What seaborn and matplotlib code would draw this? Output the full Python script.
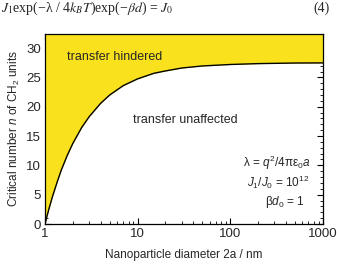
import matplotlib
matplotlib.use("Agg")
import matplotlib.pyplot as plt
import matplotlib.ticker as mticker
import seaborn as sns
import pandas as pd

# Data
diameter_nm = [1.0, 1.05, 1.1, 1.2, 1.35, 1.5, 1.75, 2.0, 2.5, 3.0, 4.0, 5.0, 7.0, 10.0,
               15.0, 20.0, 30.0, 50.0, 100.0, 200.0, 500.0, 1000.0]
critical_n = [0.0, 1.3, 2.5, 4.6, 7.1, 9.2, 11.8, 13.75, 16.5, 18.3, 20.6, 22.0, 23.6, 24.75,
              25.7, 26.1, 26.6, 26.95, 27.2, 27.35, 27.45, 27.47]
x_ticks = [1, 10, 100, 1000]
x_tick_labels = ["1", "10", "100", "1000"]
y_ticks = [0, 5, 10, 15, 20, 25, 30]

df = pd.DataFrame({"d": diameter_nm, "n": critical_n})

sns.set_theme(style="ticks")
plt.rcParams["font.family"] = ["Liberation Sans", "DejaVu Sans"]
plt.rcParams["mathtext.fontset"] = "custom"
plt.rcParams["mathtext.rm"] = "Liberation Sans"
plt.rcParams["mathtext.it"] = "Liberation Sans:italic"

fig = plt.figure(figsize=(3.37, 2.65), dpi=100)
ax = fig.add_axes([0.1335, 0.1547, 0.8245, 0.717])

ymax = 32.4
yellow = "#F9E11D"
ax.fill_between(df["d"], df["n"], ymax, color=yellow, linewidth=0)
sns.lineplot(data=df, x="d", y="n", ax=ax, color="black", linewidth=1.0)

ax.set_xscale("log")
ax.set_xlim(1, 1000)
ax.set_ylim(0, ymax)
ax.set_xticks(x_ticks)
ax.set_xticklabels(x_tick_labels)
ax.set_yticks(y_ticks)
ax.xaxis.set_minor_locator(mticker.LogLocator(base=10, subs=range(2, 10)))
ax.xaxis.set_minor_formatter(mticker.NullFormatter())
ax.yaxis.set_minor_locator(mticker.MultipleLocator(1))
ax.tick_params(which="both", direction="in", top=True, right=True, bottom=True, left=True,
               color="black", labelsize=9.5, pad=3)
ax.tick_params(which="major", length=4, width=0.8)
ax.tick_params(which="minor", length=2, width=0.6)
for s in ax.spines.values():
    s.set_visible(True)
    s.set_color("black")
    s.set_linewidth(0.9)

ax.set_xlabel("Nanoparticle diameter 2a / nm", fontsize=8.5, labelpad=6)
ax.set_ylabel(r"Critical number $n$ of CH$_2$ units", fontsize=8.5, labelpad=3)

ax.text(0.079, 0.879, "transfer hindered", transform=ax.transAxes, fontsize=9, va="center")
ax.text(0.317, 0.547, "transfer unaffected", transform=ax.transAxes, fontsize=9, va="center")
ax.text(0.955, 0.32, r"λ = $q^2$/4πε$_0$$a$", transform=ax.transAxes, fontsize=8.5,
        ha="right", va="center")
ax.text(0.95, 0.22, r"$J_1$/$J_0$ = 10$^{12}$", transform=ax.transAxes, fontsize=8.5,
        ha="right", va="center")
ax.text(0.935, 0.116, r"β$d_0$ = 1", transform=ax.transAxes, fontsize=8.5,
        ha="right", va="center")

fig.text(0.003, 0.968, r"$J_1$exp(−λ / 4$k_BT$)exp(−$\beta d$) = $J_0$",
         fontsize=10, va="center", family=["Liberation Serif", "DejaVu Serif"],
         math_fontfamily="stix")
fig.text(0.955, 0.968, "(4)", fontsize=10, va="center", ha="center",
         family=["Liberation Serif", "DejaVu Serif"])

fig.savefig("out.png", dpi=100)
